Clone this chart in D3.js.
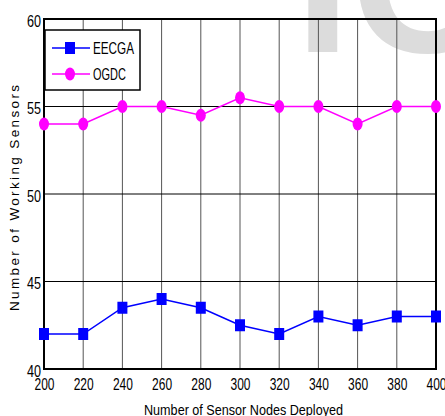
<!DOCTYPE html>
<html>
<head>
<meta charset="utf-8">
<script src="https://cdn.jsdelivr.net/npm/d3@7"></script>
<style>
  body { margin: 0; background: #fff; }
  svg text { font-family: "Liberation Sans", Arial, sans-serif; }
</style>
</head>
<body>
<div id="chart"></div>
<script>
const nodes = [200, 220, 240, 260, 280, 300, 320, 340, 360, 380, 400];
const eecga = [42, 42, 43.5, 44, 43.5, 42.5, 42, 43, 42.5, 43, 43];
const ogdc = [54, 54, 55, 55, 54.5, 55.5, 55, 55, 54, 55, 55];
const yTicks = [40, 45, 50, 55, 60];
const seriesNames = ['EECGA', 'OGDC'];

const width = 445, height = 416;
const margin = { top: 19, right: 9, bottom: 47, left: 44 };
const innerW = width - margin.left - margin.right;
const innerH = height - margin.top - margin.bottom;

const svg = d3.select('#chart').append('svg')
  .attr('width', width)
  .attr('height', height);

// watermark fragment
svg.append('text')
  .attr('x', 295)
  .attr('y', 52)
  .attr('font-size', 200)
  .attr('font-weight', 'bold')
  .attr('fill', '#dcdcdc')
  .text('IC');

const g = svg.append('g').attr('transform', `translate(${margin.left},${margin.top})`);

const x = d3.scaleLinear().domain([200, 400]).range([0, innerW]);
const y = d3.scaleLinear().domain([40, 60]).range([innerH, 0]);

// vertical grid
g.append('g').selectAll('line')
  .data(nodes.slice(1, -1))
  .enter().append('line')
  .attr('x1', d => x(d)).attr('x2', d => x(d))
  .attr('y1', 0).attr('y2', innerH)
  .attr('stroke', '#555').attr('stroke-width', 1);

// horizontal grid
g.append('g').selectAll('line')
  .data(yTicks.slice(1, -1))
  .enter().append('line')
  .attr('x1', 0).attr('x2', innerW)
  .attr('y1', d => y(d)).attr('y2', d => y(d))
  .attr('stroke', '#000').attr('stroke-width', 1);

// axes (condensed labels)
const xAxis = g.append('g')
  .attr('transform', `translate(0,${innerH})`)
  .call(d3.axisBottom(x).tickValues(nodes).tickSize(0).tickPadding(10));
xAxis.select('.domain').remove();
xAxis.selectAll('text')
  .attr('font-size', 16).attr('fill', '#000')
  .attr('textLength', 20).attr('lengthAdjust', 'spacingAndGlyphs');

const yAxis = g.append('g')
  .call(d3.axisLeft(y).tickValues(yTicks).tickSize(0).tickPadding(3));
yAxis.select('.domain').remove();
yAxis.selectAll('text')
  .attr('font-size', 16).attr('fill', '#000')
  .attr('dy', '0.45em')
  .attr('textLength', 14).attr('lengthAdjust', 'spacingAndGlyphs');

// frame
g.append('rect')
  .attr('width', innerW).attr('height', innerH)
  .attr('fill', 'none').attr('stroke', '#000').attr('stroke-width', 2);

const line = d3.line().x((d, i) => x(nodes[i])).y(d => y(d));

// EECGA
g.append('path').datum(eecga)
  .attr('d', line).attr('fill', 'none')
  .attr('stroke', '#0000ff').attr('stroke-width', 1.5);
g.append('g').selectAll('rect')
  .data(eecga).enter().append('rect')
  .attr('x', (d, i) => x(nodes[i]) - 5)
  .attr('y', d => y(d) - 6)
  .attr('width', 10).attr('height', 12)
  .attr('fill', '#0000ff');

// OGDC
g.append('path').datum(ogdc)
  .attr('d', line).attr('fill', 'none')
  .attr('stroke', '#ff00ff').attr('stroke-width', 1.5);
g.append('g').selectAll('ellipse')
  .data(ogdc).enter().append('ellipse')
  .attr('cx', (d, i) => x(nodes[i]))
  .attr('cy', d => y(d))
  .attr('rx', 5).attr('ry', 6.5)
  .attr('fill', '#ff00ff');

// legend
const legend = g.append('g').attr('transform', 'translate(1,11)');
legend.append('rect')
  .attr('width', 95).attr('height', 60)
  .attr('fill', '#fff').attr('stroke', '#000').attr('stroke-width', 1.5);
const colors = ['#0000ff', '#ff00ff'];
seriesNames.forEach((name, i) => {
  const ly = 18 + i * 26;
  legend.append('line')
    .attr('x1', 7).attr('x2', 45).attr('y1', ly).attr('y2', ly)
    .attr('stroke', colors[i]).attr('stroke-width', 1.5);
  if (i === 0) {
    legend.append('rect').attr('x', 20).attr('y', ly - 6)
      .attr('width', 10).attr('height', 12).attr('fill', colors[i]);
  } else {
    legend.append('ellipse').attr('cx', 25).attr('cy', ly)
      .attr('rx', 5).attr('ry', 6.5).attr('fill', colors[i]);
  }
  legend.append('text')
    .attr('x', 48).attr('y', ly + 6)
    .attr('font-size', 16).attr('fill', '#000')
    .attr('textLength', name.length * 8.2).attr('lengthAdjust', 'spacingAndGlyphs')
    .text(name);
});

// axis titles
svg.append('text')
  .attr('x', 144).attr('y', 415)
  .attr('font-size', 15)
  .attr('textLength', 199).attr('lengthAdjust', 'spacingAndGlyphs')
  .text('Number of Sensor Nodes Deployed');

svg.append('text')
  .attr('transform', 'translate(19,198) rotate(-90)')
  .attr('text-anchor', 'middle')
  .attr('font-size', 13.5)
  .attr('textLength', 226).attr('lengthAdjust', 'spacing')
  .text('Number of Working Sensors');
</script>
</body>
</html>
